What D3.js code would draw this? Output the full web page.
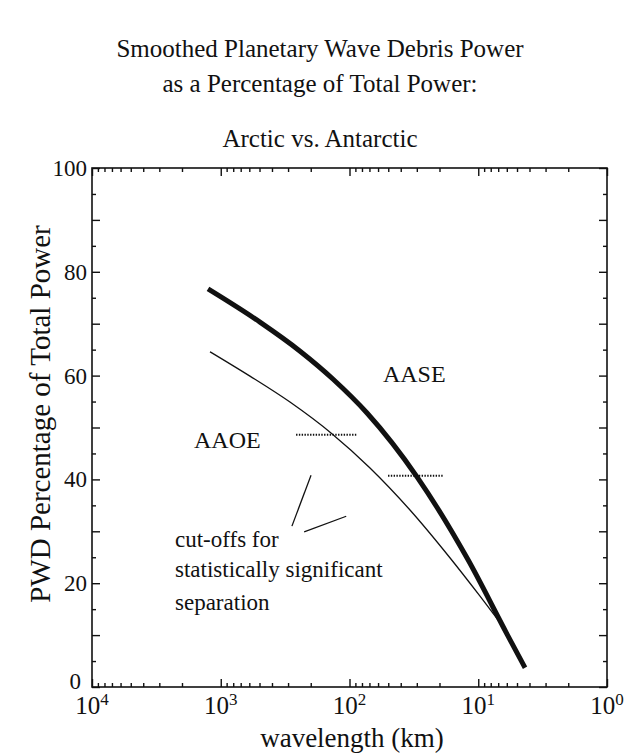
<!DOCTYPE html>
<html>
<head>
<meta charset="utf-8">
<script src="https://cdn.jsdelivr.net/npm/d3@7"></script>
<style>
  html, body { margin: 0; padding: 0; background: #fff; }
  svg text { font-family: "Liberation Serif", "Times New Roman", serif; fill: #111; }
</style>
</head>
<body>
<svg id="chart" width="629" height="755"></svg>
<script>
// Smoothed planetary wave debris (PWD) power as % of total power
const aaseWavelength = [1256, 496, 242, 134, 73.1, 29.9, 12.0, 5.98, 4.33];
const aasePercent    = [76.7, 70.3, 64.7, 59.3, 52.8, 40.5, 24.5, 10.2, 3.7];
const aaoeWavelength = [1212, 593, 290, 137, 69.3, 33.9, 16.6, 9.69, 5.87];
const aaoePercent    = [64.6, 59.9, 54.9, 48.8, 42.2, 34.1, 24.9, 17.5, 10.4];

// Cut-offs for statistically significant separation (start km, end km, percent)
const cutoffNames  = ["AAOE", "AASE"];
const cutoffFrom   = [260, 50.2];
const cutoffTo     = [87.5, 18.5];
const cutoffLevel  = [48.6, 40.7];

// Tick values
const xDecades = [1e4, 1e3, 1e2, 1e1, 1e0];
const xExponents = ["4", "3", "2", "1", "0"];
const yMajorTicks = [0, 20, 40, 60, 80, 100];

const svg = d3.select("#chart");
const plotLeft = 92, plotRight = 607, plotTop = 168, plotBottom = 687;

const x = d3.scaleLog().domain([1e4, 1]).range([plotLeft, plotRight]);
const y = d3.scaleLinear().domain([0, 100]).range([plotBottom, plotTop]);

// minor ticks on the log axis: 2..9 in each decade
const xMinor = [];
[1, 10, 100, 1000].forEach(d => { for (let k = 2; k <= 9; k++) xMinor.push(d * k); });
const yTens = d3.range(0, 101, 10);
const yFives = d3.range(5, 100, 10);

function drawAxis(axisFn, scale, values, size, translate) {
  const g = svg.append("g")
    .attr("transform", translate)
    .call(axisFn(scale).tickValues(values).tickSize(size).tickFormat(""));
  g.select(".domain").remove();
  g.selectAll(".tick line").attr("stroke", "#111").attr("stroke-width", 1.4);
  return g;
}

// inward ticks on all four sides
drawAxis(d3.axisBottom, x, xDecades, -8, `translate(0,${plotBottom})`);
drawAxis(d3.axisBottom, x, xMinor, -4, `translate(0,${plotBottom})`);
drawAxis(d3.axisTop, x, xDecades, -8, `translate(0,${plotTop})`);
drawAxis(d3.axisTop, x, xMinor, -4, `translate(0,${plotTop})`);
drawAxis(d3.axisLeft, y, yTens, -8, `translate(${plotLeft},0)`);
drawAxis(d3.axisLeft, y, yFives, -4, `translate(${plotLeft},0)`);
drawAxis(d3.axisRight, y, yTens, -8, `translate(${plotRight},0)`);
drawAxis(d3.axisRight, y, yFives, -4, `translate(${plotRight},0)`);

// frame
svg.append("rect")
  .attr("x", plotLeft).attr("y", plotTop)
  .attr("width", plotRight - plotLeft).attr("height", plotBottom - plotTop)
  .attr("fill", "none").attr("stroke", "#111").attr("stroke-width", 1.6);

// y tick labels
svg.append("g").selectAll("text")
  .data(yMajorTicks).join("text")
  .attr("x", d => d === 0 ? plotLeft - 11 : plotLeft - 5)
  .attr("y", d => d === 0 ? y(d) + 2 : y(d) + 8)
  .attr("text-anchor", "end")
  .attr("font-size", 23)
  .text(d => d);

// x decade labels with superscripts
const xl = svg.append("g").selectAll("text")
  .data(xDecades).join("text")
  .attr("x", d => x(d))
  .attr("y", 714)
  .attr("text-anchor", "middle")
  .attr("font-size", 25);
xl.append("tspan").text("10");
xl.append("tspan").attr("dy", -9).attr("font-size", 17).text((d, i) => xExponents[i]);

// axis titles
svg.append("text")
  .attr("x", 352).attr("y", 747)
  .attr("text-anchor", "middle")
  .attr("font-size", 27)
  .text("wavelength (km)");

svg.append("text")
  .attr("transform", "translate(50,414) rotate(-90)")
  .attr("text-anchor", "middle")
  .attr("font-size", 29)
  .text("PWD Percentage of Total Power");

// title
const titleLines = [
  ["Smoothed Planetary Wave Debris Power", 57],
  ["as a Percentage of Total Power:", 92],
  ["Arctic vs. Antarctic", 147]
];
svg.append("g").selectAll("text")
  .data(titleLines).join("text")
  .attr("x", 320).attr("y", d => d[1])
  .attr("text-anchor", "middle")
  .attr("font-size", 25)
  .text(d => d[0]);

// curves
const line = d3.line()
  .x(d => x(d[0]))
  .y(d => y(d[1]))
  .curve(d3.curveMonotoneX);

svg.append("path")
  .datum(aaoeWavelength.map((w, i) => [w, aaoePercent[i]]))
  .attr("d", line)
  .attr("fill", "none").attr("stroke", "#111").attr("stroke-width", 1.3);

svg.append("path")
  .datum(aaseWavelength.map((w, i) => [w, aasePercent[i]]))
  .attr("d", line)
  .attr("fill", "none").attr("stroke", "#111").attr("stroke-width", 5)
  .attr("stroke-linecap", "butt");

// significance cut-offs (dotted)
svg.append("g").selectAll("line")
  .data(cutoffNames).join("line")
  .attr("x1", (d, i) => x(cutoffFrom[i]))
  .attr("x2", (d, i) => x(cutoffTo[i]))
  .attr("y1", (d, i) => y(cutoffLevel[i]))
  .attr("y2", (d, i) => y(cutoffLevel[i]))
  .attr("stroke", "#111").attr("stroke-width", 2)
  .attr("stroke-dasharray", "1.4,1.4");

// series labels
svg.append("text").attr("x", x(1614)).attr("y", y(46.0))
  .attr("font-size", 24).text("AAOE");
svg.append("text").attr("x", x(55)).attr("y", y(58.8))
  .attr("font-size", 24).text("AASE");

// pointer lines from the note toward the cut-offs
const pointers = [
  [[199, 40.8], [280, 31.0]],
  [[225, 29.9], [106, 32.9]]
];
svg.append("g").selectAll("line")
  .data(pointers).join("line")
  .attr("x1", d => x(d[0][0])).attr("y1", d => y(d[0][1]))
  .attr("x2", d => x(d[1][0])).attr("y2", d => y(d[1][1]))
  .attr("stroke", "#111").attr("stroke-width", 1.3);

// note text
const note = svg.append("text").attr("font-size", 23);
[["cut-offs for", 27.0], ["statistically significant", 21.2], ["separation", 14.8]]
  .forEach(([t, v]) => note.append("tspan").attr("x", x(2266)).attr("y", y(v)).text(t));
</script>
</body>
</html>
